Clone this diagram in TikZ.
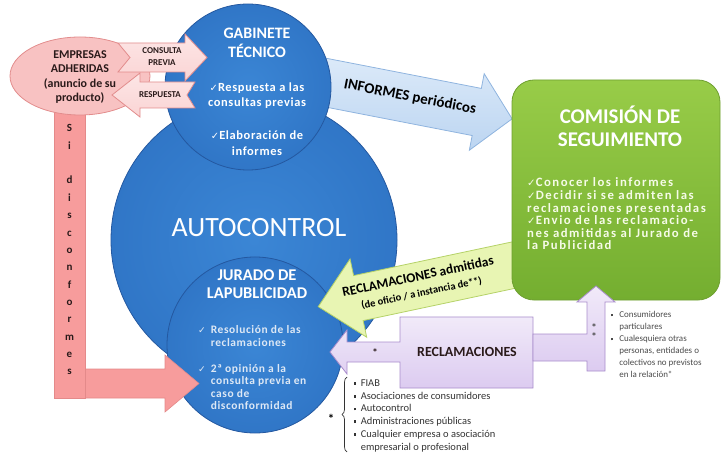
\documentclass[tikz,border=0pt]{standalone}
\usepackage{fontspec}
\setmainfont{Carlito}
\newfontfamily\dvs{DejaVu Sans}
\newfontfamily\spaced[LetterSpace=5]{Carlito}
\newfontfamily\widesp[LetterSpace=12]{Carlito}
\usetikzlibrary{decorations.pathreplacing,shapes.geometric}
\definecolor{bluelight}{HTML}{3B86D5}
\definecolor{bluemain}{HTML}{2E73C4}
\definecolor{bluedeep}{HTML}{2560AA}
\definecolor{blueedge}{HTML}{2458A0}
\definecolor{pinkbar}{HTML}{F79C9C}
\definecolor{pinkbaredge}{HTML}{E48A8A}
\definecolor{pinkell}{HTML}{F8C2C2}
\definecolor{pinkedge}{HTML}{E28C8C}
\definecolor{pinkarr}{HTML}{FAD4D4}
\definecolor{pinkarrlight}{HTML}{FDE6E6}
\definecolor{infolight}{HTML}{DCEAF9}
\definecolor{infofill}{HTML}{BCD5F1}
\definecolor{infoedge}{HTML}{8FB4DF}
\definecolor{greenlight}{HTML}{98CC48}
\definecolor{greendark}{HTML}{74AE30}
\definecolor{greenedge}{HTML}{6E9F30}
\definecolor{yelfill}{HTML}{E8F5B3}
\definecolor{yeledge}{HTML}{B5D268}
\definecolor{purlight}{HTML}{F1EAF9}
\definecolor{purfill}{HTML}{DCCBF0}
\definecolor{puredge}{HTML}{A98DCC}
\definecolor{txtdark}{HTML}{2A1A1A}
\definecolor{jurtxt}{HTML}{DDE8F5}
\definecolor{comtxt}{HTML}{F6FBE8}
\definecolor{greytxt}{HTML}{4A4A4A}
\pgfdeclareradialshading{bluecirc}{\pgfpoint{0bp}{0bp}}{color(0bp)=(bluelight); color(30bp)=(bluemain); color(45bp)=(bluemain); color(50bp)=(bluedeep)}
\newcommand\chk{\scalebox{0.8}{\dvs ✓}}
\newcommand\sqb{\rule[1.6bp]{2.6bp}{2.6bp}}
\begin{document}
\begin{tikzpicture}[x=1bp,y=-1bp,
  circ/.style={circle, inner sep=0, shading=bluecirc, draw=blueedge, line width=0.8bp},
  pinkshape/.style={fill=pinkbar, draw=pinkbaredge, line width=0.6bp},
  smallarrow/.style={top color=pinkarrlight, bottom color=pinkarr, draw=pinkedge, line width=0.8bp},
  infoarrow/.style={top color=infolight, bottom color=infofill, draw=infoedge, line width=0.8bp},
  yelarrow/.style={fill=yelfill, draw=yeledge, line width=0.8bp},
  purshape/.style={top color=purlight, bottom color=purfill, draw=puredge, line width=0.8bp},
  wtitle/.style={text=white, align=center, inner sep=0},
  lbl/.style={inner sep=0}]
\useasboundingbox (0,0) rectangle (723,455);

% informes arrow (behind the gabinete circle)
\begin{scope}[shift={(410,99)}, rotate=-11]
  \shadedraw[infoarrow] (-100,-24) -- (68,-24) -- (68,-39) -- (104,0) -- (68,39) -- (68,24) -- (-100,24) -- cycle;
\end{scope}

% circles
\node[circ, minimum size=286bp] (autocontrol) at (254,240) {};
\node[circ, minimum size=166bp] (gabinete) at (248,87) {};
\node[circ, minimum size=176bp] (jurado) at (255,345) {};

% pink bent arrow "Si disconformes"
\filldraw[pinkshape] (80,369) -- (165,369) -- (165,355) -- (199,383.5) -- (165,412) -- (165,398) -- (80,398) -- cycle;
\filldraw[pinkshape] (54,100) rectangle (85,398);

% empresas ellipse
\node[ellipse, minimum width=140bp, minimum height=78bp, inner sep=0, fill=pinkell, draw=pinkedge, line width=0.8bp] (empresas) at (80,76) {};

% consulta / respuesta arrows
\shadedraw[smallarrow] (118,43) -- (185,43) -- (185,34) -- (207,57.5) -- (185,81) -- (185,72) -- (118,72) -- (130,57.5) -- cycle;
\shadedraw[smallarrow] (195,82) -- (140,82) -- (140,73) -- (112,95) -- (140,117) -- (140,108) -- (195,108) -- (187,95) -- cycle;

% reclamaciones callout
\shadedraw[purshape] (400,317) -- (533,317) -- (533,388) -- (400,388) -- (400,362) -- (347,362) -- (347,374) -- (330,352) -- (347,330) -- (347,342) -- (400,342) -- cycle;

% yellow arrow (reclamaciones admitidas)
\begin{scope}[shift={(420,285)}, rotate=12]
  \filldraw[yelarrow] (105,-23) -- (-63,-23) -- (-63,-40) -- (-104,0) -- (-63,40) -- (-63,23) -- (105,23) -- cycle;
\end{scope}

% comision box
\node[rectangle, rounded corners=22bp, minimum width=208bp, minimum height=220bp, inner sep=0, top color=greenlight, bottom color=greendark, draw=greenedge, line width=0.8bp] (comision) at (616,190) {};

% bent-up purple arrow
\shadedraw[purshape] (533,334) -- (587,334) -- (587,302) -- (577,302) -- (596,286) -- (615,302) -- (605,302) -- (605,371) -- (587,371) -- (587,361) -- (533,361) -- cycle;

% ---------- texts ----------
\node[lbl, font=\bfseries\fontsize{12}{14.3}\selectfont, align=center, text=txtdark] (emptxt) at (80,77) {EMPRESAS\\ADHERIDAS\\(anuncio de su\\producto)};
\node[lbl, font=\bfseries\fontsize{9}{12}\selectfont, align=center, text=txtdark] (consulta) at (162,57) {CONSULTA\\PREVIA};
\node[lbl, font=\bfseries\fontsize{9}{11}\selectfont, text=txtdark] (respuesta) at (160,95) {RESPUESTA};

\node[wtitle, font=\bfseries\fontsize{16}{19}\selectfont] (gabtitle) at (257,43) {GABINETE\\TÉCNICO};
\node[lbl, anchor=base, text=white, font=\spaced\bfseries\fontsize{12.5}{14.5}\selectfont] (gablist1) at (257,92) {\begin{tabular}[t]{@{}c@{}}\chk Respuesta a las\\consultas previas\end{tabular}};
\node[lbl, anchor=base, text=white, font=\spaced\bfseries\fontsize{12.5}{16}\selectfont] (gablist2) at (257,139.5) {\begin{tabular}[t]{@{}c@{}}\chk Elaboración de\\informes\end{tabular}};

\node[lbl, text=white, font=\fontsize{28}{30}\selectfont] (autotxt) at (259,228) {AUTOCONTROL};

\node[wtitle, font=\bfseries\fontsize{16.5}{18.5}\selectfont] (jurtitle) at (257,284) {JURADO DE\\LAPUBLICIDAD};
\node[lbl, anchor=base west, text=jurtxt, font=\spaced\bfseries\fontsize{11.5}{12.7}\selectfont] (jurlist) at (198,333.7) {\begin{tabular}[t]{@{}l@{\hspace{5bp}}l@{}}\chk & Resolución de las\\ & reclamaciones\\[13bp] \chk & 2ª opinión a la\\ & consulta previa en\\ & caso de\\ & disconformidad\end{tabular}};

\node[wtitle, font=\bfseries\fontsize{21}{23}\selectfont] (comtitle) at (620,126) {COMISIÓN DE\\SEGUIMIENTO};
\node[lbl, anchor=base west, text=comtxt, font=\widesp\bfseries\fontsize{12.8}{12.2}\selectfont] (comlist) at (527,187) {\begin{tabular}[t]{@{}l@{}}\chk Conocer los informes\\\chk Decidir si se admiten las\\reclamaciones presentadas\\\chk Envio de las reclamacio-\\nes admitidas al Jurado de\\la Publicidad\end{tabular}};

\node[lbl, rotate=-11, font=\bfseries\fontsize{15}{17}\selectfont, text=black] (inftxt) at (410,97) {INFORMES periódicos};

\node[lbl, rotate=12, text=black] (admtxt) at (420,285.5) {\begin{tabular}{@{}c@{}}{\bfseries\fontsize{13.5}{15}\selectfont RECLAMACIONES admitidas}\\[4bp]{\bfseries\fontsize{10.5}{12}\selectfont (de oficio / a instancia de**)}\end{tabular}};

\node[lbl, font=\bfseries\fontsize{14}{16}\selectfont, text=txtdark] (recltxt) at (467,352) {RECLAMACIONES};
\node[lbl, font=\bfseries\fontsize{11}{12}\selectfont, text=txtdark] (ast1) at (375,353) {*};
\node[lbl, font=\bfseries\fontsize{11}{9}\selectfont, text=greytxt, align=center] (ast2) at (594,332) {*\\*};

\node[lbl, anchor=north, font=\bfseries\fontsize{11}{17.43}\selectfont, align=center, text=txtdark] (sidisc) at (69.5,124.4) {S\\i\\[17.43bp]d\\i\\s\\c\\o\\n\\f\\o\\r\\m\\e\\s};

% bottom list with brace
\coordinate (bracetop) at (347,377);
\coordinate (bracebot) at (347,452);
\draw[decorate, decoration={brace, amplitude=5bp}, line width=0.7bp, black!80] (bracebot) -- (bracetop);
\node[lbl, font=\bfseries\fontsize{13}{14}\selectfont] (ast3) at (331,419) {*};
\node[lbl, anchor=base west, text=black!80, font=\fontsize{10.5}{12.8}\selectfont] (list1) at (353.5,386.4) {\begin{tabular}[t]{@{}l@{\hspace{4.5bp}}l@{}}\sqb & FIAB\\ \sqb & Asociaciones de consumidores\\ \sqb & Autocontrol\\ \sqb & Administraciones públicas\\ \sqb & Cualquier empresa o asociación\\ & empresarial o profesional\end{tabular}};

% right list
\node[lbl, anchor=base west, text=greytxt, font=\fontsize{9}{12}\selectfont] (list2) at (610.5,318) {\begin{tabular}[t]{@{}l@{\hspace{6bp}}l@{}}\sqb & Consumidores\\ & particulares\\ \sqb & Cualesquiera otras\\ & personas, entidades o\\ & colectivos no previstos\\ & en la relación*\end{tabular}};
\end{tikzpicture}
\end{document}
